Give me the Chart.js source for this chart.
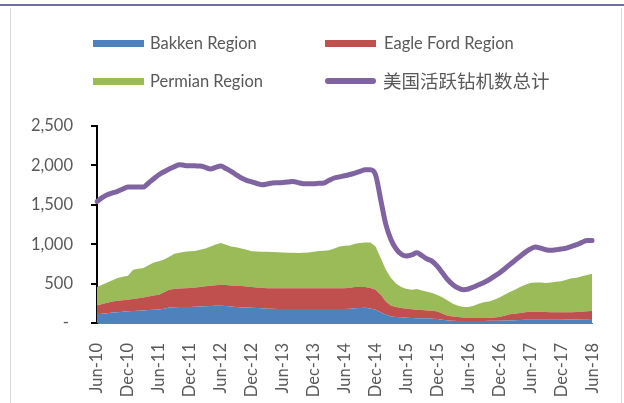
<!DOCTYPE html>
<html>
<head>
<meta charset="utf-8">
<script src="https://cdn.jsdelivr.net/npm/chart.js@4.4.1/dist/chart.umd.min.js"></script>
<style>
  body { margin: 0; background: #fff; }
  #wrap { position: relative; width: 624px; height: 403px; overflow: hidden; font-family: Lato, sans-serif; }
  #topline { position: absolute; left: 0; top: 4px; width: 624px; height: 2px; background: #6f6fa6; }
  #frame { position: absolute; left: 10px; top: 8px; width: 610px; height: 400px; border-left: 1px solid #d9d9d9; border-right: 1px solid #d9d9d9; }
  canvas { position: absolute; left: 0; top: 0; }
  .sw { position: absolute; height: 7px; width: 51px; }
  .tx { position: absolute; font-size: 16.5px; color: #595959; line-height: 20px; white-space: nowrap; }
  .cjk { font-family: "Noto Sans CJK SC", sans-serif; font-size: 18.5px; }
</style>
</head>
<body>
<div id="wrap">
  <div id="topline"></div>
  <div id="frame"></div>
  <canvas id="grafico" width="624" height="403"></canvas>

  <div class="sw" style="left:93px;top:40px;background:#4f81bd"></div>
  <div class="tx" style="left:150px;top:33px">Bakken Region</div>
  <div class="sw" style="left:325px;top:40px;background:#c0504d"></div>
  <div class="tx" style="left:384px;top:33px">Eagle Ford Region</div>
  <div class="sw" style="left:93px;top:78px;background:#9bbb59"></div>
  <div class="tx" style="left:150px;top:71px">Permian Region</div>
  <div class="sw" style="left:325px;top:78px;height:6px;border-radius:3px;background:#8064a2"></div>
  <div class="tx cjk" style="left:383px;top:70px">美国活跃钻机数总计</div>
</div>

<script>
// months Jun-10 .. Jun-18
const meses = [
  "Jun-10","Jul-10","Aug-10","Sep-10","Oct-10","Nov-10","Dec-10",
  "Jan-11","Feb-11","Mar-11","Apr-11","May-11","Jun-11","Jul-11","Aug-11","Sep-11","Oct-11","Nov-11","Dec-11",
  "Jan-12","Feb-12","Mar-12","Apr-12","May-12","Jun-12","Jul-12","Aug-12","Sep-12","Oct-12","Nov-12","Dec-12",
  "Jan-13","Feb-13","Mar-13","Apr-13","May-13","Jun-13","Jul-13","Aug-13","Sep-13","Oct-13","Nov-13","Dec-13",
  "Jan-14","Feb-14","Mar-14","Apr-14","May-14","Jun-14","Jul-14","Aug-14","Sep-14","Oct-14","Nov-14","Dec-14",
  "Jan-15","Feb-15","Mar-15","Apr-15","May-15","Jun-15","Jul-15","Aug-15","Sep-15","Oct-15","Nov-15","Dec-15",
  "Jan-16","Feb-16","Mar-16","Apr-16","May-16","Jun-16","Jul-16","Aug-16","Sep-16","Oct-16","Nov-16","Dec-16",
  "Jan-17","Feb-17","Mar-17","Apr-17","May-17","Jun-17","Jul-17","Aug-17","Sep-17","Oct-17","Nov-17","Dec-17",
  "Jan-18","Feb-18","Mar-18","Apr-18","May-18","Jun-18"
]

const bakken = [
  110,118,125,132,138,143,148,
  152,156,160,164,167,170,180,198,200,202,203,204,
  207,210,213,216,218,220,215,208,202,198,196,194,
  190,186,182,180,178,178,178,178,178,178,178,178,
  178,178,178,178,178,178,182,186,190,194,185,169,
  135,105,84,76,72,67,63,59,59,59,55,50,
  42,33,28,25,25,25,25,25,26,27,28,30,
  32,33,35,37,40,42,42,42,42,42,42,42,
  44,45,46,47,48,50
]

const eagleFord = [
  110,122,133,142,145,147,148,
  154,159,165,173,181,189,210,225,230,235,239,240,
  244,248,252,256,261,266,267,269,271,270,266,263,
  261,260,258,260,262,262,262,262,262,262,262,262,
  262,262,262,262,262,262,266,271,267,263,259,254,
  224,169,136,127,118,114,112,110,106,101,99,97,
  76,60,56,51,45,38,38,38,37,36,42,46,
  61,77,83,90,95,101,101,101,97,93,93,93,
  91,90,93,96,100,102
]

const permian = [
  237,246,257,269,288,296,304,
  370,372,373,396,421,425,416,418,449,455,463,466,
  463,472,482,500,518,529,512,495,487,479,466,452,
  456,459,465,462,459,456,453,450,448,452,456,465,
  474,478,482,507,532,540,537,549,558,566,579,549,
  466,402,351,296,267,250,248,262,249,237,227,208,
  207,194,161,144,133,140,157,182,199,211,226,249,
  266,283,305,330,351,365,372,372,369,380,389,394,
  415,432,436,449,461,474
]

const totalEEUU = [
  1543,1590,1628,1650,1670,1700,1726,
  1726,1726,1726,1777,1830,1882,1920,1954,1985,2009,2000,1996,
  1994,1992,1975,1954,1975,1992,1960,1924,1880,1840,1810,1790,
  1770,1755,1765,1777,1780,1784,1790,1797,1782,1768,1768,1768,
  1772,1777,1810,1840,1855,1869,1885,1903,1925,1945,1945,1882,
  1565,1250,1057,940,873,850,865,890,854,812,782,718,
  634,549,486,444,423,431,457,486,515,549,592,634,
  685,740,794,845,896,939,964,951,930,922,930,939,
  951,972,994,1023,1048,1048
]

const fuente = { family: "Lato", size: 16.5 }
const gris = "#595959"

const area = (label, data, color, fill) => ({
  label: label,
  data: data,
  backgroundColor: color,
  borderWidth: 0,
  pointRadius: 0,
  fill: fill,
  stack: "regiones",
})

new Chart(document.getElementById("grafico"), {
  type: "line",
  data: {
    labels: meses,
    datasets: [
      area("Bakken Region", bakken, "#4f81bd", "origin"),
      area("Eagle Ford Region", eagleFord, "#c0504d", "-1"),
      area("Permian Region", permian, "#9bbb59", "-1"),
      {
        label: "美国活跃钻机数总计",
        data: totalEEUU,
        borderColor: "#8064a2",
        borderWidth: 5,
        pointRadius: 0,
        fill: false,
        cubicInterpolationMode: "monotone",
        borderCapStyle: "round",
        stack: "total",
        order: -1,
      },
    ],
  },
  options: {
    responsive: false,
    animation: false,
    devicePixelRatio: 1,
    layout: { padding: { top: 126, right: 31, left: 0, bottom: 0 } },
    plugins: { legend: { display: false }, tooltip: { enabled: false } },
    scales: {
      x: {
        grid: { display: false },
        border: { color: "#4f81bd", width: 1 },
        ticks: {
          autoSkip: false,
          minRotation: 90,
          maxRotation: 90,
          padding: 12,
          color: gris,
          font: fuente,
          callback: (v, i) => (i % 6 === 0 ? meses[i] : ""),
        },
        afterFit: (s) => { s.height = 80 },
      },
      y: {
        stacked: true,
        min: 0,
        max: 2500,
        border: { color: "#000", width: 2 },
        grid: { drawOnChartArea: false, color: "#000", lineWidth: 2, tickLength: 6 },
        ticks: {
          stepSize: 500,
          padding: 18,
          color: gris,
          font: fuente,
          callback: (v) => (v === 0 ? "- " : v.toLocaleString("en-US")),
        },
        afterFit: (s) => { s.width = 97 },
      },
    },
  },
})
</script>
</body>
</html>
